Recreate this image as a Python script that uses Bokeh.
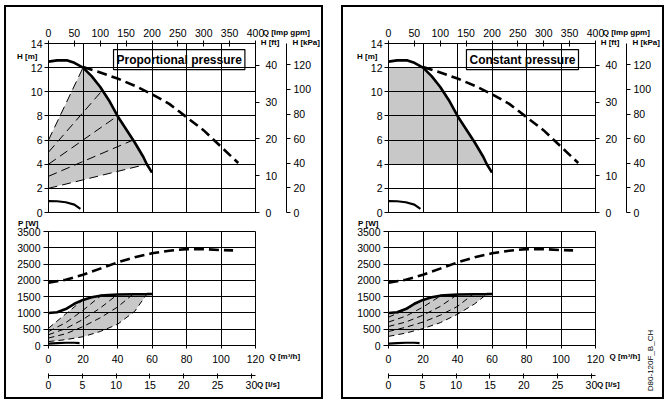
import math
from bokeh.plotting import figure
from bokeh.layouts import row, column
from bokeh.models import LinearAxis, Range1d, FixedTicker, Label
from bokeh.core.properties import value
from bokeh.embed import file_html
from bokeh.resources import INLINE

FONT = "Liberation Sans"

# ---------------- data ----------------
q_ticks = [0, 20, 40, 60, 80, 100, 120]
h_ticks = [0, 2, 4, 6, 8, 10, 12, 14]
gpm_ticks = [0, 50, 100, 150, 200, 250, 300, 350, 400]
ft_ticks = [0, 10, 20, 30, 40]
kpa_ticks = [0, 20, 40, 60, 80, 100, 120]
p_ticks = [0, 500, 1000, 1500, 2000, 2500, 3000, 3500]
ls_ticks = [0, 5, 10, 15, 20, 25, 30]

# head curves [m] vs Q [m3/h]
hmax_q = [0, 5, 11, 15, 20, 25, 30, 35, 40, 45, 50, 55, 57, 60]
hmax_h = [12.5, 12.6, 12.6, 12.4, 12.0, 11.3, 10.4, 9.3, 8.0, 6.9, 5.8, 4.6, 4.0, 3.3]
hdash_q = [20, 30, 40, 50, 60, 70, 80, 90, 100, 110]
hdash_h = [12.05, 11.6, 11.1, 10.5, 9.8, 9.0, 7.9, 6.8, 5.45, 4.1]
hmin_q = [0, 5, 10, 15, 18.5]
hmin_h = [0.95, 0.93, 0.85, 0.65, 0.3]

# proportional-pressure control lines (start head, end flow, end head)
prop_h0 = [2, 3, 4, 5, 6]
prop_q1 = [57, 49, 40, 30.5, 20]
prop_h1 = [4, 6, 8, 10, 12]

# constant-pressure band
const_h_low = 4
const_h_high = 12

# power curves [W] vs Q [m3/h]
pmax_q = [0, 5, 10, 15, 20, 25, 30, 40, 50, 57, 60]
pmax_p = [1000, 1020, 1120, 1280, 1400, 1480, 1530, 1565, 1575, 1578, 1580]
pdash_q = [0, 10, 20, 30, 40, 50, 60, 70, 80, 90, 100, 107]
pdash_p = [1930, 2020, 2170, 2360, 2550, 2710, 2830, 2910, 2960, 2960, 2930, 2920]
pmin_q = [0, 5, 10, 15, 18]
pmin_p = [60, 75, 85, 85, 75]

prop_p_q = [[0, 10, 20, 30, 40, 50, 57],
            [0, 10, 20, 30, 40, 49],
            [0, 10, 20, 30, 40],
            [0, 10, 20, 30.5],
            [0, 10, 20]]
prop_p_p = [[120, 180, 270, 430, 650, 1050, 1578],
            [230, 360, 580, 850, 1180, 1575],
            [330, 520, 800, 1150, 1565],
            [430, 700, 1080, 1535],
            [530, 970, 1400]]

const_p_q = [[0, 10, 20, 30, 40, 50, 57],
             [0, 10, 20, 30, 40, 49],
             [0, 10, 20, 30, 40],
             [0, 10, 20, 30.5],
             [0, 10, 20]]
const_p_p = [[280, 380, 520, 700, 960, 1280, 1578],
             [430, 560, 720, 930, 1200, 1575],
             [585, 720, 930, 1200, 1565],
             [720, 900, 1180, 1535],
             [870, 1100, 1400]]

GRAY = "#c8c8c8"
FRAME_W = 207


def style_axis(ax, ticks, tick_in=0, tick_out=4, standoff=4):
    ax.ticker = FixedTicker(ticks=ticks)
    ax.major_tick_in = tick_in
    ax.major_tick_out = tick_out
    ax.minor_tick_line_color = None
    ax.major_label_standoff = standoff
    ax.major_label_text_font = FONT
    ax.major_label_text_font_size = "10.5px"
    ax.major_label_text_color = "black"
    ax.axis_line_color = "black"
    ax.major_tick_line_color = "black"


def small_text(fig, xs, ys, texts, align="left", size="8px", bold=True, angle=0):
    fig.text(x=xs, y=ys, text=texts, text_font=value(FONT), text_font_size=value(size),
             text_font_style="bold" if bold else "normal", text_align=align,
             text_baseline="middle", text_color="black", angle=angle, level="overlay")


def base_fig(w_left, w_right, height, top, bottom, yr):
    f = figure(width=w_left + FRAME_W + w_right, height=height,
               x_range=Range1d(0, 120), y_range=yr,
               x_axis_location=None, y_axis_location=None,
               min_border_left=w_left, min_border_right=w_right,
               min_border_top=top, min_border_bottom=bottom,
               output_backend="svg", toolbar_location=None)
    f.title.visible = False
    f.outline_line_color = "black"
    f.outline_line_alpha = 1
    f.outline_line_width = 1
    f.background_fill_color = "white"
    f.border_fill_alpha = 0
    return f


def make_h(mode, w_left, w_right):
    h = base_fig(w_left, w_right, 213, 36, 8, Range1d(0, 14))
    h.extra_x_ranges = {"gpm": Range1d(0, 400)}
    h.extra_y_ranges = {"ft": Range1d(0, 14 / 0.3048), "kpa": Range1d(0, 14 * 9.80665)}

    h.xgrid.ticker = FixedTicker(ticks=q_ticks)
    h.ygrid.ticker = FixedTicker(ticks=h_ticks)
    for g in (h.xgrid, h.ygrid):
        g.grid_line_color = "black"
        g.grid_line_alpha = 1
        g.level = "overlay"

    ax = LinearAxis()
    style_axis(ax, h_ticks, 0, 4, 2)
    h.add_layout(ax, "left")
    ax = LinearAxis(x_range_name="gpm")
    style_axis(ax, gpm_ticks, 3, 3, 4)
    h.add_layout(ax, "above")
    ax = LinearAxis(y_range_name="ft")
    style_axis(ax, ft_ticks, 0, 4, 6)
    ax.axis_label = " "
    ax.axis_label_text_font_size = "3px"
    ax.axis_label_standoff = 0
    h.add_layout(ax, "right")
    ax = LinearAxis(y_range_name="kpa")
    style_axis(ax, kpa_ticks, 0, 4, 3)
    h.add_layout(ax, "right")

    if mode == "prop":
        area_q = [0, 0] + hmax_q[4:13]
        area_h = [prop_h0[0], prop_h0[-1]] + hmax_h[4:13]
    else:
        area_q = [0, 0] + hmax_q[4:13]
        area_h = [const_h_low, const_h_high] + hmax_h[4:13]
    h.patch(area_q, area_h, fill_color=GRAY, line_color=None)

    if mode == "prop":
        xs = [[0, q1] for q1 in prop_q1]
        ys = [[h0, h1] for h0, h1 in zip(prop_h0, prop_h1)]
        h.multi_line(xs, ys, line_color="black", line_width=1, line_dash="9 5")

    h.line(hmax_q, hmax_h, line_color="black", line_width=2.6)
    h.line(hdash_q, hdash_h, line_color="black", line_width=2.6, line_dash="10 5")
    h.line(hmin_q, hmin_h, line_color="black", line_width=2.2)

    title = "Proportional pressure" if mode == "prop" else "Constant pressure"
    tx = 37.7 if mode == "prop" else 45.2
    h.add_layout(Label(x=tx, y=12.67, text=title, text_font=FONT, text_font_size="12px",
                       text_font_style="bold", text_baseline="middle", text_color="black",
                       background_fill_color="white", border_line_color="black",
                       border_line_width=1.2, padding=3))

    small_text(h, [-6.4], [12.96], ["H [m]"], align="right")
    small_text(h, [124.2, 123.0, 141.4], [14.94, 14.05, 14.05],
               ["Q [Imp gpm]", "H [ft]", "H [kPa]"])
    return h


def make_p(mode, w_left, w_right):
    p = base_fig(w_left, w_right, 177, 11, 52, Range1d(0, 3500))
    p.extra_x_ranges = {"ls": Range1d(0, 30.6)}
    p.xgrid.ticker = FixedTicker(ticks=q_ticks)
    p.ygrid.ticker = FixedTicker(ticks=p_ticks)
    for g in (p.xgrid, p.ygrid):
        g.grid_line_color = "black"
        g.grid_line_alpha = 1
        g.level = "overlay"

    ax = LinearAxis()
    style_axis(ax, p_ticks, 0, 5, 3)
    p.add_layout(ax, "left")
    ax = LinearAxis()
    style_axis(ax, q_ticks, 0, 3, 6)
    ax.axis_label = " "
    ax.axis_label_text_font_size = "4px"
    ax.axis_label_standoff = 2
    p.add_layout(ax, "below")
    ax = LinearAxis(x_range_name="ls")
    style_axis(ax, ls_ticks, 2, 3, 2)
    p.add_layout(ax, "below")

    if mode == "prop":
        lq, lp = prop_p_q, prop_p_p
        area_q = lq[4] + pmax_q[5:10] + lq[0][::-1]
        area_p = lp[4] + pmax_p[5:10] + lp[0][::-1]
    else:
        lq, lp = const_p_q, const_p_p
        area_q = pmax_q[0:10] + lq[0][::-1]
        area_p = pmax_p[0:10] + lp[0][::-1]
    p.patch(area_q, area_p, fill_color=GRAY, line_color=None)
    p.multi_line(lq, lp, line_color="black", line_width=1, line_dash="6 4")

    p.line(pmax_q, pmax_p, line_color="black", line_width=2.6)
    p.line(pdash_q, pdash_p, line_color="black", line_width=2.6, line_dash="10 5")
    p.line(pmin_q, pmin_p, line_color="black", line_width=2.2)

    small_text(p, [-5.8], [3745], ["P [W]"], align="right")
    small_text(p, [128.1, 120.8], [-338, -1197], ["Q [m³/h]", "Q [l/s]"])
    if mode == "const":
        small_text(p, [151.9], [-460], ["D80-120F_B_CH"], align="center", bold=False,
                   angle=math.pi / 2)
    return p


hL = make_h("prop", 42, 66)
pL = make_p("prop", 42, 66)
hR = make_h("const", 45, 67)
pR = make_p("const", 45, 67)

panel_style = {"border": "2px solid black"}
colL = column(hL, pL, spacing=0, styles=panel_style)
colR = column(hR, pR, spacing=0, styles=panel_style)
root = row(colL, colR, spacing=18, margin=(5, 0, 0, 4))

open("out.html", "w").write(file_html(root, INLINE))
